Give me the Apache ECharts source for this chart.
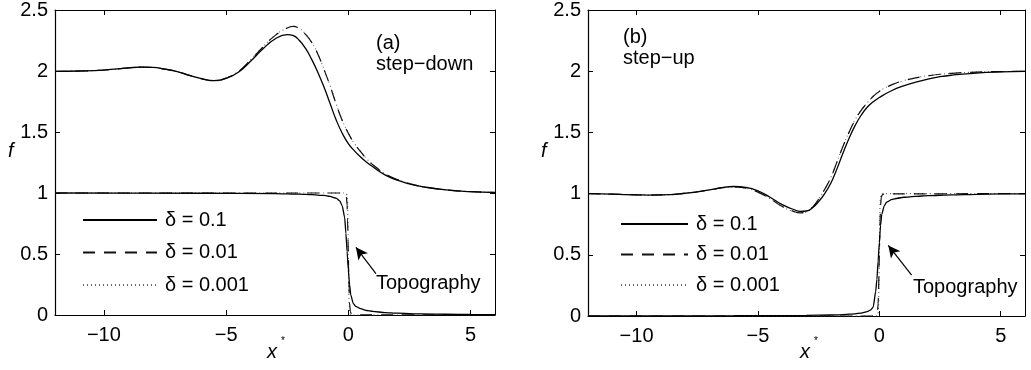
<!DOCTYPE html>
<html>
<head>
<meta charset="utf-8">
<script src="https://cdn.jsdelivr.net/npm/echarts@6/dist/echarts.min.js"></script>
<style>
html,body{margin:0;padding:0;background:#fff;}
#chart{width:1031px;height:370px;}
</style>
</head>
<body>
<div id="chart"></div>
<script>
// ---------- tick labels ----------
const xTicks = [-10, -5, 0, 5];
const yTicks = [0, 0.5, 1, 1.5, 2, 2.5];
const deltaNames = ['δ = 0.1', 'δ = 0.01', 'δ = 0.001'];

// ---------- panel (a) step-down : f curves ----------
const xUA = [-12,-11,-10,-9,-8.5,-8,-7.5,-7,-6.5,-6,-5.5,-5,-4.5,-4,-3.5,-3,-2.5,-2.25,-2,-1.75,-1.5,-1.25,-1,-0.75,-0.5,-0.25,0,0.25,0.5,0.75,1,1.5,2,2.5,3,4,5,6];
const fA_d1 = [1.997,2.0,2.008,2.025,2.032,2.03,2.015,1.995,1.965,1.938,1.921,1.94,1.99,2.08,2.18,2.262,2.298,2.29,2.25,2.185,2.095,1.99,1.87,1.735,1.6,1.49,1.405,1.345,1.295,1.252,1.215,1.148,1.105,1.075,1.052,1.025,1.011,1.004];
const fA_d2 = [1.997,2.0,2.008,2.025,2.032,2.03,2.015,1.995,1.964,1.936,1.92,1.942,1.995,2.09,2.195,2.29,2.352,2.365,2.345,2.3,2.235,2.14,2.015,1.88,1.73,1.595,1.49,1.405,1.34,1.28,1.232,1.158,1.11,1.078,1.054,1.026,1.011,1.004];
const fA_d3 = [1.997,2.0,2.008,2.025,2.032,2.03,2.015,1.995,1.964,1.936,1.92,1.942,1.996,2.092,2.197,2.292,2.354,2.367,2.347,2.302,2.237,2.142,2.017,1.882,1.732,1.597,1.491,1.406,1.341,1.281,1.233,1.158,1.11,1.078,1.054,1.026,1.011,1.004];

// ---------- panel (a) topography ----------
const xTopo = [-12,-6,-3,-2,-1.5,-1,-0.75,-0.5,-0.35,-0.25,-0.15,-0.1,-0.05,0,0.05,0.1,0.2,0.3,0.5,0.75,1,1.5,2,3,4,5,6];
const topoA_d1 = [1.0,0.998,0.995,0.99,0.986,0.98,0.972,0.958,0.935,0.895,0.8,0.67,0.52,0.37,0.25,0.165,0.095,0.07,0.052,0.037,0.029,0.02,0.015,0.009,0.006,0.004,0.003];
const xSharp = [-12,-0.3,-0.2,-0.12,-0.08,-0.05,-0.03,-0.01,0,0.01,0.03,0.05,0.08,0.12,0.2,6];
const topoA_d2 = [1,1,0.998,0.99,0.97,0.9,0.78,0.6,0.5,0.4,0.22,0.1,0.03,0.008,0.002,0];
const topoA_d3 = [1,1,1,0.999,0.995,0.98,0.93,0.7,0.5,0.3,0.07,0.02,0.005,0.001,0,0];

// ---------- panel (b) step-up : f curves ----------
const xUB = [-12,-11,-10,-9.5,-9,-8,-7,-6.5,-6,-5.5,-5,-4.5,-4,-3.5,-3.25,-3,-2.75,-2.5,-2.25,-2,-1.75,-1.5,-1.25,-1,-0.75,-0.5,-0.25,0,0.5,1,1.5,2,2.5,3,4,5,6];
const fB_d1 = [1.0,0.995,0.99,0.988,0.989,1.003,1.03,1.048,1.058,1.05,1.022,0.97,0.91,0.868,0.855,0.858,0.885,0.935,1.0,1.085,1.2,1.33,1.45,1.555,1.64,1.705,1.75,1.785,1.84,1.88,1.91,1.935,1.955,1.968,1.985,1.994,1.998];
const fB_d2 = [1.0,0.995,0.99,0.988,0.989,1.003,1.03,1.046,1.055,1.045,1.012,0.958,0.895,0.853,0.843,0.852,0.89,0.955,1.035,1.13,1.255,1.385,1.5,1.6,1.68,1.74,1.795,1.835,1.888,1.922,1.945,1.962,1.975,1.983,1.993,1.997,1.999];
const fB_d3 = [1.0,0.995,0.99,0.988,0.989,1.003,1.03,1.046,1.055,1.044,1.011,0.957,0.894,0.852,0.842,0.851,0.89,0.956,1.037,1.132,1.257,1.387,1.502,1.602,1.682,1.742,1.797,1.837,1.889,1.923,1.946,1.963,1.975,1.983,1.993,1.997,1.999];

// ---------- panel (b) topography ----------
const topoB_d1 = [0,0.002,0.005,0.008,0.012,0.018,0.024,0.035,0.05,0.075,0.2,0.3,0.45,0.6,0.74,0.83,0.9,0.93,0.95,0.962,0.97,0.978,0.983,0.99,0.994,0.997,0.998];
const topoB_d2 = [0,0,0.002,0.01,0.03,0.1,0.22,0.4,0.5,0.6,0.78,0.9,0.97,0.99,0.998,1];
const topoB_d3 = [0,0,0,0.001,0.005,0.02,0.07,0.3,0.5,0.7,0.93,0.98,0.995,0.999,1,1];

// ---------- arrow annotation (data coords: tail, head) ----------
const arrowA = [[1.13, 0.34], [0.31, 0.555]];
const arrowB = [[1.33, 0.333], [0.37, 0.577]];

const FONT = "'Liberation Sans', Arial, Helvetica, sans-serif";
const FS = 20;
const pairs = (xs, ys) => xs.map((x, i) => [x, ys[i]]);

const styles = [
  { color: '#000', width: 1.3, type: 'solid' },
  { color: '#111', width: 1.2, type: [12, 9] },
  { color: '#666', width: 1.1, type: [1, 3] }
];

function mkSeries(name, data, xi, yi, st, z, extra) {
  return Object.assign({
    type: 'line', name, data, xAxisIndex: xi, yAxisIndex: yi,
    symbol: 'none', smooth: 0.5,
    lineStyle: { color: st.color, width: st.width, type: st.type },
    itemStyle: { color: st.color },
    z: z, silent: true, animation: false
  }, extra || {});
}

function arrowMark(a) {
  return {
    markLine: {
      silent: true, animation: false,
      symbol: ['none', 'arrow'], symbolSize: [9, 12],
      label: { show: false },
      lineStyle: { color: '#000', width: 1.2, type: 'solid' },
      itemStyle: { color: '#333' },
      data: [[{ coord: a[0] }, { coord: a[1] }]]
    }
  };
}

const fmtX = v => String(v).replace('-', '\u2212');

function axesFor(gi) {
  const common = {
    gridIndex: gi, type: 'value', min: -12, max: 6,
    splitLine: { show: false },
    axisLine: { show: true, onZero: false, lineStyle: { color: '#000', width: 1.2 } }
  };
  const bottom = Object.assign({}, common, {
    position: 'bottom',
    axisTick: { show: true, inside: true, length: 5, customValues: xTicks, lineStyle: { color: '#000' } },
    axisLabel: { show: true, customValues: xTicks, formatter: fmtX, color: '#000', fontSize: FS, fontFamily: FONT, margin: 10 }
  });
  const top = Object.assign({}, common, {
    position: 'top',
    axisLine: { show: true, onZero: false, lineStyle: { color: '#000', width: 1 } },
    axisTick: { show: true, inside: true, length: 5, customValues: xTicks, lineStyle: { color: '#000' } },
    axisLabel: { show: false }
  });
  const ycommon = {
    gridIndex: gi, type: 'value', min: 0, max: 2.5, interval: 0.5,
    splitLine: { show: false }
  };
  const left = Object.assign({}, ycommon, {
    position: 'left',
    axisLine: { show: true, onZero: false, lineStyle: { color: '#000', width: 1.2 } },
    axisTick: { show: true, inside: true, length: 5, lineStyle: { color: '#000' } },
    axisLabel: { show: true, color: '#000', fontSize: FS, fontFamily: FONT, margin: 7 }
  });
  const right = Object.assign({}, ycommon, {
    position: 'right',
    axisLine: { show: true, onZero: false, lineStyle: { color: '#000', width: 1 } },
    axisTick: { show: true, inside: true, length: 5, lineStyle: { color: '#000' } },
    axisLabel: { show: false }
  });
  return { x: [bottom, top], y: [left, right] };
}

const axA = axesFor(0), axB = axesFor(1);

const topoOpt = { smooth: 0.2, smoothMonotone: 'x' };
const series = [
  // panel (a)
  mkSeries(deltaNames[2], pairs(xUA, fA_d3), 0, 0, styles[2], 3),
  mkSeries(deltaNames[1], pairs(xUA, fA_d2), 0, 0, styles[1], 4),
  mkSeries(deltaNames[0], pairs(xUA, fA_d1), 0, 0, styles[0], 5),
  mkSeries(deltaNames[2], pairs(xSharp, topoA_d3), 0, 0, styles[2], 3, topoOpt),
  mkSeries(deltaNames[1], pairs(xSharp, topoA_d2), 0, 0, styles[1], 4, topoOpt),
  mkSeries(deltaNames[0], pairs(xTopo, topoA_d1), 0, 0, styles[0], 5, Object.assign({}, topoOpt, arrowMark(arrowA))),
  // panel (b)
  mkSeries(deltaNames[2], pairs(xUB, fB_d3), 2, 2, styles[2], 3),
  mkSeries(deltaNames[1], pairs(xUB, fB_d2), 2, 2, styles[1], 4),
  mkSeries(deltaNames[0], pairs(xUB, fB_d1), 2, 2, styles[0], 5),
  mkSeries(deltaNames[2], pairs(xSharp, topoB_d3), 2, 2, styles[2], 3, topoOpt),
  mkSeries(deltaNames[1], pairs(xSharp, topoB_d2), 2, 2, styles[1], 4, topoOpt),
  mkSeries(deltaNames[0], pairs(xTopo, topoB_d1), 2, 2, styles[0], 5, Object.assign({}, topoOpt, arrowMark(arrowB)))
];

function legendAt(left, top, w, gap) {
  return {
    orient: 'vertical', left: left, top: top, padding: 0,
    itemWidth: w, itemHeight: 20, itemGap: gap, selectedMode: false,
    data: deltaNames.slice(),
    itemStyle: { color: 'rgba(0,0,0,0)', borderWidth: 0, opacity: 0 },
    textStyle: { color: '#000', fontSize: FS, fontFamily: FONT, padding: [0, 0, 0, 3] }
  };
}

function txt(x, y, s, extra) {
  return {
    type: 'text', left: x, top: y, silent: true,
    style: Object.assign({ text: s, fill: '#000', font: FS + 'px ' + FONT }, extra || {})
  };
}

const option = {
  backgroundColor: '#fff',
  animation: false,
  grid: [
    { left: 55, right: 536, top: 8, bottom: 55, containLabel: false },
    { left: 588, right: 6, top: 8, bottom: 54, containLabel: false }
  ],
  xAxis: [axA.x[0], axA.x[1], axB.x[0], axB.x[1]],
  yAxis: [axA.y[0], axA.y[1], axB.y[0], axB.y[1]],
  legend: [legendAt(82, 210, 74, 12.5), legendAt(620, 214, 67, 10.5)],
  series: series,
  graphic: [
    txt(376, 33, '(a)'),
    txt(376, 54, 'step\u2212down'),
    txt(376, 273, 'Topography'),
    txt(623, 27, '(b)'),
    txt(623, 48, 'step\u2212up'),
    txt(913, 277, 'Topography'),
    txt(8, 141, 'f', { font: 'italic ' + FS + 'px ' + FONT }),
    txt(541, 141, 'f', { font: 'italic ' + FS + 'px ' + FONT }),
    txt(267, 342, 'x', { font: 'italic ' + FS + 'px ' + FONT }),
    txt(281, 336, '*', { font: '10px ' + FONT }),
    txt(800, 342, 'x', { font: 'italic ' + FS + 'px ' + FONT }),
    txt(814, 336, '*', { font: '10px ' + FONT })
  ]
};

const chart = echarts.init(document.getElementById('chart'), null, { renderer: 'canvas' });
chart.setOption(option);
</script>
</body>
</html>
